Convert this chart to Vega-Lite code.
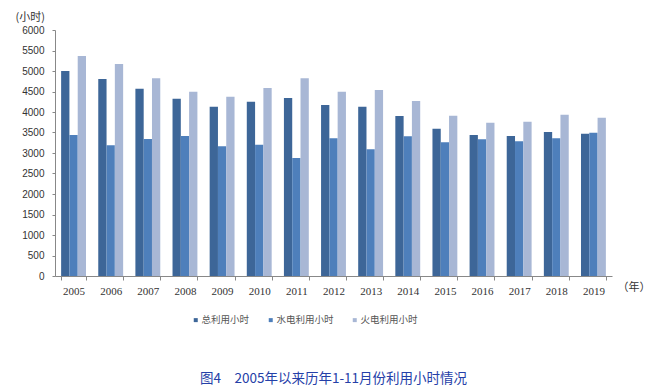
{
  "$schema": "https://vega.github.io/schema/vega-lite/v6.json",
  "autosize": {"type": "none"},
  "width": 557,
  "height": 246,
  "padding": {"left": 55, "top": 30, "right": 49, "bottom": 115},
  "background": "white",
  "title": {
    "text": "图4　2005年以来历年1-11月份利用小时情况",
    "orient": "bottom",
    "anchor": "middle",
    "offset": 47,
    "fontSize": 13.5,
    "fontWeight": "normal",
    "font": "Noto Sans CJK SC",
    "color": "#2540A8"
  },
  "data": {
    "values": [
      {"year": "2005", "series": "总利用小时", "value": 5000},
      {"year": "2005", "series": "水电利用小时", "value": 3439},
      {"year": "2005", "series": "火电利用小时", "value": 5366},
      {"year": "2006", "series": "总利用小时", "value": 4805},
      {"year": "2006", "series": "水电利用小时", "value": 3187},
      {"year": "2006", "series": "火电利用小时", "value": 5171},
      {"year": "2007", "series": "总利用小时", "value": 4569},
      {"year": "2007", "series": "水电利用小时", "value": 3341},
      {"year": "2007", "series": "火电利用小时", "value": 4821},
      {"year": "2008", "series": "总利用小时", "value": 4325},
      {"year": "2008", "series": "水电利用小时", "value": 3415},
      {"year": "2008", "series": "火电利用小时", "value": 4496},
      {"year": "2009", "series": "总利用小时", "value": 4130},
      {"year": "2009", "series": "水电利用小时", "value": 3163},
      {"year": "2009", "series": "火电利用小时", "value": 4374},
      {"year": "2010", "series": "总利用小时", "value": 4252},
      {"year": "2010", "series": "水电利用小时", "value": 3203},
      {"year": "2010", "series": "火电利用小时", "value": 4585},
      {"year": "2011", "series": "总利用小时", "value": 4341},
      {"year": "2011", "series": "水电利用小时", "value": 2878},
      {"year": "2011", "series": "火电利用小时", "value": 4821},
      {"year": "2012", "series": "总利用小时", "value": 4171},
      {"year": "2012", "series": "水电利用小时", "value": 3358},
      {"year": "2012", "series": "火电利用小时", "value": 4496},
      {"year": "2013", "series": "总利用小时", "value": 4130},
      {"year": "2013", "series": "水电利用小时", "value": 3090},
      {"year": "2013", "series": "火电利用小时", "value": 4537},
      {"year": "2014", "series": "总利用小时", "value": 3902},
      {"year": "2014", "series": "水电利用小时", "value": 3407},
      {"year": "2014", "series": "火电利用小时", "value": 4268},
      {"year": "2015", "series": "总利用小时", "value": 3593},
      {"year": "2015", "series": "水电利用小时", "value": 3260},
      {"year": "2015", "series": "火电利用小时", "value": 3910},
      {"year": "2016", "series": "总利用小时", "value": 3439},
      {"year": "2016", "series": "水电利用小时", "value": 3334},
      {"year": "2016", "series": "火电利用小时", "value": 3740},
      {"year": "2017", "series": "总利用小时", "value": 3415},
      {"year": "2017", "series": "水电利用小时", "value": 3285},
      {"year": "2017", "series": "火电利用小时", "value": 3764},
      {"year": "2018", "series": "总利用小时", "value": 3512},
      {"year": "2018", "series": "水电利用小时", "value": 3358},
      {"year": "2018", "series": "火电利用小时", "value": 3934},
      {"year": "2019", "series": "总利用小时", "value": 3471},
      {"year": "2019", "series": "水电利用小时", "value": 3495},
      {"year": "2019", "series": "火电利用小时", "value": 3861}
    ]
  },
  "mark": {"type": "bar"},
  "encoding": {
    "x": {
      "field": "year",
      "type": "nominal",
      "scale": {"paddingInner": 0.33, "paddingOuter": 0.165},
      "axis": {
        "title": "（年）",
        "titleFont": "Noto Sans CJK SC",
        "titleFontSize": 11,
        "titleFontWeight": "normal",
        "titleColor": "#333333",
        "titleAngle": 0,
        "titleAlign": "left",
        "titleBaseline": "middle",
        "titleX": 562,
        "titleY": 11,
        "labelAngle": 0,
        "labelFont": "Liberation Serif",
        "labelFontSize": 11,
        "labelColor": "#333333",
        "labelPadding": 5,
        "tickBand": "extent",
        "tickSize": 4,
        "tickColor": "#888888",
        "domainColor": "#888888",
        "grid": false
      }
    },
    "xOffset": {
      "field": "series",
      "type": "nominal",
      "sort": ["总利用小时", "水电利用小时", "火电利用小时"],
      "scale": {"paddingInner": 0, "paddingOuter": 0}
    },
    "y": {
      "field": "value",
      "type": "quantitative",
      "scale": {"domain": [0, 6000], "nice": false},
      "axis": {
        "values": [0, 500, 1000, 1500, 2000, 2500, 3000, 3500, 4000, 4500, 5000, 5500, 6000],
        "format": "d",
        "title": "(小时)",
        "titleFont": "Noto Sans CJK SC",
        "titleFontSize": 11,
        "titleFontWeight": "normal",
        "titleColor": "#333333",
        "titleAngle": 0,
        "titleAlign": "left",
        "titleBaseline": "middle",
        "titleX": -40,
        "titleY": -13,
        "labelFont": "Liberation Sans",
        "labelFontSize": 10,
        "labelColor": "#333333",
        "labelPadding": 8,
        "tickSize": 3,
        "tickColor": "#888888",
        "domainColor": "#888888",
        "grid": false
      }
    },
    "color": {
      "field": "series",
      "type": "nominal",
      "sort": ["总利用小时", "水电利用小时", "火电利用小时"],
      "scale": {
        "domain": ["总利用小时", "水电利用小时", "火电利用小时"],
        "range": ["#3D6698", "#4E7FBB", "#A8B7D5"]
      },
      "legend": {
        "title": null,
        "orient": "none",
        "direction": "horizontal",
        "legendX": 136,
        "legendY": 285,
        "symbolType": "square",
        "symbolSize": 16,
        "symbolStrokeWidth": 0,
        "labelFont": "Noto Sans CJK SC",
        "labelFontSize": 9.5,
        "labelColor": "#555555",
        "labelOffset": 1,
        "columnPadding": 16
      }
    }
  },
  "config": {
    "view": {"stroke": null},
    "axis": {"labelFont": "Liberation Sans"}
  }
}
